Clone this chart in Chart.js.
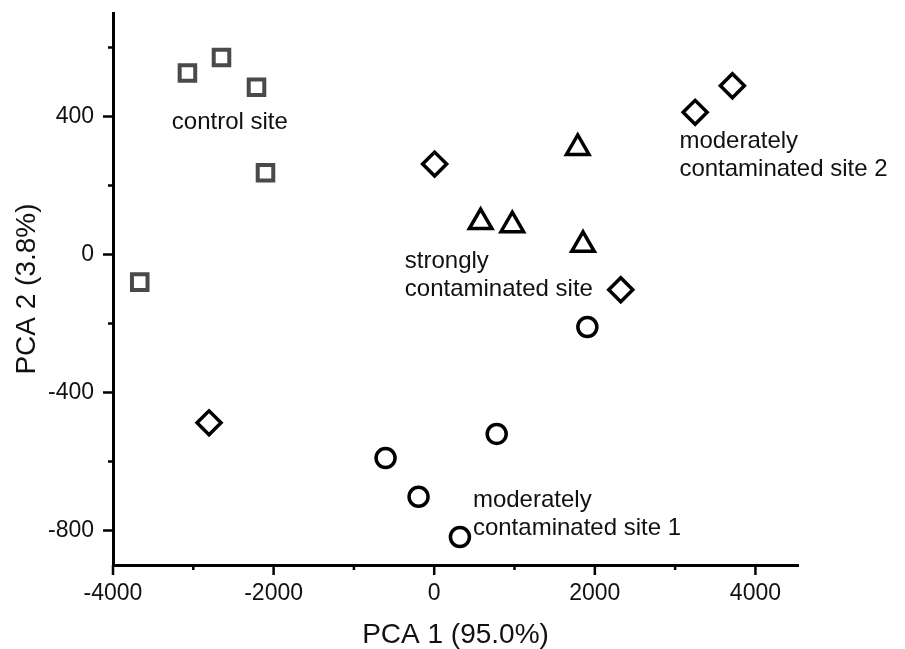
<!DOCTYPE html>
<html lang="en">
<head>
  <meta charset="UTF-8" />
  <title>PCA sites</title>
  <script src="https://cdn.jsdelivr.net/npm/chart.js"></script>
  <style>
    * { margin: 0; padding: 0; box-sizing: border-box; }
    body { background: #fff; }
    canvas { display: block; }
  </style>
</head>
<body>
  <canvas id="pcaChart" width="905" height="649"></canvas>

  <script>
    // Valores (PCA 1, PCA 2)
    const controlX = [-3073, -2649, -2213, -2101, -3667];
    const controlY = [526, 571, 485, 237, -80];

    const diamondX = [5, 3249, 3713, 2323, -2804];
    const diamondY = [262, 412, 489, -102, -488];

    const strongX = [578, 972, 1787, 1853];
    const strongY = [94, 85, 309, 28];

    const moderate1X = [1907, 778, -606, -195, 320];
    const moderate1Y = [-210, -520, -590, -702, -819];

    // Ejes
    const xMajorTicks = [-4000, -2000, 0, 2000, 4000];
    const xMinorTicks = [-3000, -1000, 1000, 3000];
    const yMajorTicks = [-800, -400, 0, 400];
    const yMinorTicks = [-600, -200, 200, 600];

    // Etiquetas de los grupos (texto y punto de anclaje en unidades de datos)
    const siteLabels = [
      { lines: ['control site'], x: -3268, y: 384 },
      { lines: ['strongly', 'contaminated site'], x: -366, y: -20 },
      { lines: ['moderately', 'contaminated site 2'], x: 3053, y: 329 },
      { lines: ['moderately', 'contaminated site 1'], x: 482, y: -714 }
    ];

    const toPoints = (xs, ys) => xs.map((x, i) => ({ x: x, y: ys[i] }));

    const FONT = "'Liberation Sans', Arial, sans-serif";

    // Ticks mayores y menores hacia fuera
    const tickMarks = {
      id: 'tickMarks',
      afterDraw(chart) {
        const c = chart.ctx;
        const xs = chart.scales.x, ys = chart.scales.y;
        const area = chart.chartArea;
        c.save();
        c.strokeStyle = '#000';
        c.lineWidth = 2.5;
        c.beginPath();
        xMajorTicks.concat(xMinorTicks).forEach(v => {
          const px = xs.getPixelForValue(v);
          const len = xMajorTicks.includes(v) ? 10 : 5;
          c.moveTo(px, area.bottom);
          c.lineTo(px, area.bottom + len);
        });
        yMajorTicks.concat(yMinorTicks).forEach(v => {
          const py = ys.getPixelForValue(v);
          const len = yMajorTicks.includes(v) ? 10 : 5;
          c.moveTo(area.left, py);
          c.lineTo(area.left - len, py);
        });
        c.stroke();
        c.restore();
      }
    };

    const groupText = {
      id: 'groupText',
      afterDatasetsDraw(chart) {
        const c = chart.ctx;
        const xs = chart.scales.x, ys = chart.scales.y;
        c.save();
        c.fillStyle = '#111';
        c.font = '24px ' + FONT;
        c.textAlign = 'left';
        c.textBaseline = 'middle';
        siteLabels.forEach(lab => {
          const px = xs.getPixelForValue(lab.x);
          const py = ys.getPixelForValue(lab.y);
          lab.lines.forEach((t, i) => c.fillText(t, px, py + i * 28));
        });
        c.restore();
      }
    };

    const ctx = document.getElementById('pcaChart').getContext('2d');

    const chart = new Chart(ctx, {
      type: 'scatter',
      data: {
        datasets: [
          {
            label: 'control site',
            data: toPoints(controlX, controlY),
            pointStyle: 'rect',
            pointRadius: 11,
            borderColor: '#4a4a4a',
            borderWidth: 4,
            backgroundColor: 'rgba(0,0,0,0)'
          },
          {
            label: 'moderately contaminated site 2',
            data: toPoints(diamondX, diamondY),
            pointStyle: 'rectRot',
            pointRadius: 12,
            borderColor: '#000',
            borderWidth: 3.5,
            backgroundColor: 'rgba(0,0,0,0)'
          },
          {
            label: 'strongly contaminated site',
            data: toPoints(strongX, strongY),
            pointStyle: 'triangle',
            pointRadius: 13,
            borderColor: '#000',
            borderWidth: 3.5,
            backgroundColor: 'rgba(0,0,0,0)'
          },
          {
            label: 'moderately contaminated site 1',
            data: toPoints(moderate1X, moderate1Y),
            pointStyle: 'circle',
            pointRadius: 9.5,
            borderColor: '#000',
            borderWidth: 3.5,
            backgroundColor: 'rgba(0,0,0,0)'
          }
        ]
      },
      options: {
        responsive: false,
        animation: false,
        devicePixelRatio: 1,
        layout: { autoPadding: false, padding: { left: 0, top: 13, right: 107, bottom: 0 } },
        plugins: {
          legend: { display: false },
          tooltip: { enabled: false }
        },
        scales: {
          x: {
            type: 'linear',
            min: -4000,
            max: 4530,
            afterFit: s => { s.height = 84; s.paddingLeft = 0; s.paddingRight = 0; },
            afterBuildTicks: s => { s.ticks = xMajorTicks.map(v => ({ value: v })); },
            border: { display: true, color: '#000', width: 3 },
            grid: { display: true, drawOnChartArea: false, drawTicks: false },
            ticks: {
              color: '#111',
              padding: 15,
              font: { family: FONT, size: 23 },
              callback: v => String(v)
            },
            title: {
              display: true,
              text: 'PCA 1 (95.0%)',
              color: '#111',
              padding: { top: 0, bottom: 0 },
              font: { family: FONT, size: 28, lineHeight: 1 }
            }
          },
          y: {
            type: 'linear',
            min: -900,
            max: 700,
            afterFit: s => { s.width = 113; s.paddingTop = 0; s.paddingBottom = 0; },
            afterBuildTicks: s => { s.ticks = yMajorTicks.map(v => ({ value: v })); },
            border: { display: true, color: '#000', width: 3 },
            grid: { display: true, drawOnChartArea: false, drawTicks: false },
            ticks: {
              color: '#111',
              padding: 19,
              font: { family: FONT, size: 23 },
              callback: v => String(v)
            },
            title: {
              display: true,
              text: 'PCA 2 (3.8%)',
              color: '#111',
              padding: { top: 13, bottom: 0 },
              font: { family: FONT, size: 28, lineHeight: 1 }
            }
          }
        }
      },
      plugins: [tickMarks, groupText]
    });
  </script>
</body>
</html>
